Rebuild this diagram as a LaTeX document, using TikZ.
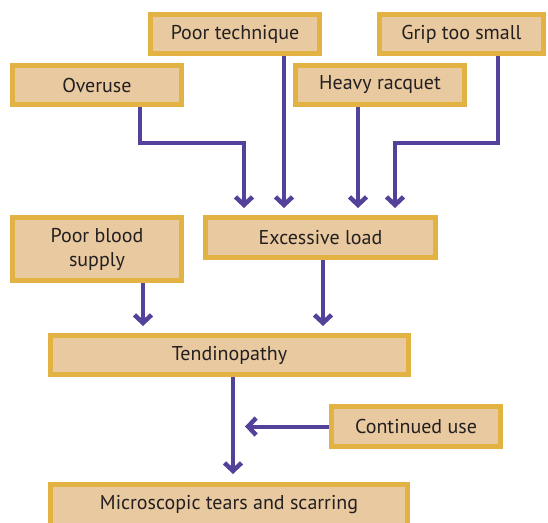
\documentclass[tikz,border=0pt]{standalone}
\usepackage{fontspec}
\setmainfont{PT Sans}
\usetikzlibrary{arrows.meta}
\definecolor{boxfill}{HTML}{E8C9A0}
\definecolor{boxline}{HTML}{E2B342}
\definecolor{flowline}{HTML}{54419A}
\definecolor{boxtext}{HTML}{231F20}
\tikzset{cause/.style = {
    draw = boxline,
    fill = boxfill,
    line width = 5pt,
    text = boxtext,
    inner sep = 0pt,
    minimum height = 39pt,
    align = center,
    font = \fontsize{20}{24}\selectfont
}}
\tikzset{flow/.style = {
    draw = flowline,
    line width = 4pt,
    -{Straight Barb[length=8pt, width=17pt, line width=4.5pt, line cap=butt, line join=miter]}
}}

\begin{document}
\begin{tikzpicture}[x = 1pt, y = -1pt]
    \clip 
        (0, 0) rectangle (548, 522)
    ;

    % Boxes
    \node [cause, minimum width = 169pt] (tech)     at (235, 34)     {Poor technique};
    \node [cause, minimum width = 164pt] (grip)     at (461.5, 34)   {Grip too small};
    \node [cause, minimum width = 169pt] (overuse)  at (97, 85)      {Overuse};
    \node [cause, minimum width = 169pt] (racquet)  at (380, 85)     {Heavy racquet};
    \node [cause, minimum width = 169pt, minimum height = 63pt]
        (blood) at (97, 249) {Poor blood\\supply};
    \node [cause, minimum width = 230pt, minimum height = 40pt]
        (load) at (320.5, 237.5) {Excessive load};
    \node [cause, minimum width = 358pt] (tendino)  at (229.5, 355)  {Tendinopathy};
    \node [cause, minimum width = 169pt, minimum height = 40pt]
        (contuse) at (416, 426.5) {Continued use};
    \node [cause, minimum width = 357pt, minimum height = 41pt]
        (micro) at (229, 505) {Microscopic tears and scarring};

    % Arrows into the load
    \draw 
        [flow, shorten > = 7pt]
        ([xshift = 43pt]overuse.south) -- ++(0, 36) -| ([xshift = -76.5pt]load.north)
    ;
    \draw 
        [flow, shorten > = 7pt]
        ([xshift = 49pt]tech.south) -- ([xshift = 49pt]tech.south |- load.north)
    ;
    \draw 
        [flow, shorten > = 7pt]
        ([xshift = -22pt]racquet.south) -- ([xshift = -22pt]racquet.south |- load.north)
    ;
    \draw 
        [flow, shorten > = 7pt]
        ([xshift = 36.5pt]grip.south) -- ++(0, 87) -| ([xshift = 74.5pt]load.north)
    ;

    % Arrows into tendinopathy
    \draw 
        [flow, shorten > = 7pt]
        ([xshift = 46pt]blood.south) -- ([xshift = 46pt]blood.south |- tendino.north)
    ;
    \draw 
        [flow, shorten > = 7pt]
        ([xshift = 2.5pt]load.south) -- ([xshift = 2.5pt]load.south |- tendino.north)
    ;

    % Down to the tears
    \draw 
        [flow, shorten > = 8pt]
        ([xshift = 3.5pt]tendino.south) -- ([xshift = 3.5pt]tendino.south |- micro.north)
    ;
    \draw 
        [flow, shorten > = 12pt]
        (contuse.west) -- ([xshift = 3.5pt]contuse.west -| tendino.south)
    ;

\end{tikzpicture}
\end{document}
